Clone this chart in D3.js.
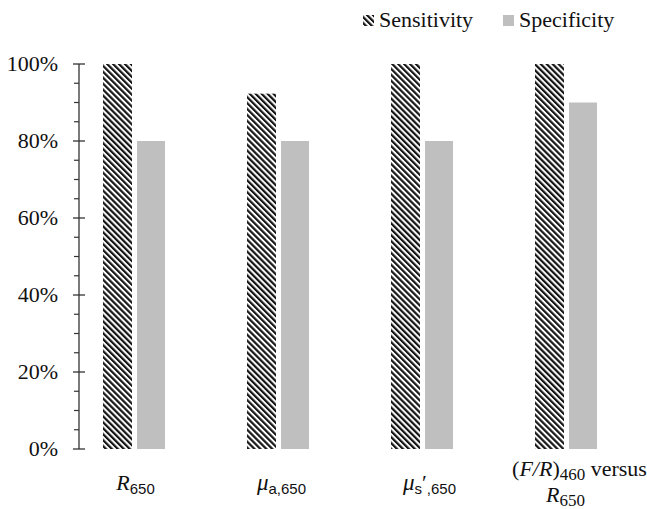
<!DOCTYPE html>
<html>
<head>
<meta charset="utf-8">
<script src="https://cdn.jsdelivr.net/npm/d3@7"></script>
<style>
  body { margin: 0; background: #fff; }
  svg { display: block; }
</style>
</head>
<body>
<div id="chart"></div>
<script>
// data
const categories = ["R650", "mua650", "mus650", "FR460"];
const sensitivity = [100, 92.3, 100, 100];
const specificity = [80, 80, 80, 90];
const seriesNames = ["Sensitivity", "Specificity"];
const yTicks = [0, 20, 40, 60, 80, 100];

const SERIF = "'Liberation Serif', 'Times New Roman', 'DejaVu Serif', serif";
const SANS = "'Liberation Sans', Arial, sans-serif";

const W = 647, H = 509;
const svg = d3.select("#chart").append("svg").attr("width", W).attr("height", H);

// hatch pattern for sensitivity
const defs = svg.append("defs");
defs.append("pattern")
    .attr("id", "hatch")
    .attr("patternUnits", "userSpaceOnUse")
    .attr("width", 4.2).attr("height", 4.2)
    .attr("patternTransform", "rotate(-45)")
    .append("rect")
    .attr("x", 0).attr("y", 0).attr("width", 2.2).attr("height", 4.2)
    .attr("fill", "#151515");

const axisX = 79;
const y = d3.scaleLinear().domain([0, 100]).range([449, 64]);
const x = d3.scaleBand().domain(categories).range([62.5, 638.5]);
const barW = 29, gap = 5;

// y axis
const ax = svg.append("g");
ax.append("line").attr("x1", axisX).attr("x2", axisX)
    .attr("y1", y(0)).attr("y2", y(100)).attr("stroke", "#333").attr("stroke-width", 1.3);
const minor = d3.range(0, 101, 5).filter(d => d % 20 !== 0);
ax.selectAll(".minor").data(minor).enter().append("line")
    .attr("x1", axisX - 5).attr("x2", axisX)
    .attr("y1", d => y(d)).attr("y2", d => y(d))
    .attr("stroke", "#333").attr("stroke-width", 1.2);
ax.selectAll(".major").data(yTicks).enter().append("line")
    .attr("x1", axisX - 6).attr("x2", axisX + 6)
    .attr("y1", d => y(d)).attr("y2", d => y(d))
    .attr("stroke", "#333").attr("stroke-width", 1.3);
ax.selectAll("text").data(yTicks).enter().append("text")
    .attr("font-family", SERIF)
    .attr("x", 58).attr("y", d => y(d) + 7)
    .attr("text-anchor", "end")
    .attr("font-size", 22).attr("fill", "#111")
    .text(d => d + "%");

// bars
const groups = svg.append("g").selectAll("g").data(categories).enter().append("g");
const cx = d => x(d) + x.bandwidth() / 2;
groups.append("rect")
    .attr("x", d => cx(d) - gap / 2 - barW)
    .attr("y", (d, i) => y(sensitivity[i]))
    .attr("width", barW)
    .attr("height", (d, i) => y(0) - y(sensitivity[i]))
    .attr("fill", "url(#hatch)");
groups.append("rect")
    .attr("x", d => cx(d) + gap / 2)
    .attr("y", (d, i) => y(specificity[i]))
    .attr("width", barW - 1)
    .attr("height", (d, i) => y(0) - y(specificity[i]))
    .attr("fill", "#bfbfbf");

// category labels
function label(cat, dx, yy) {
    return svg.append("text").attr("x", cx(cat) + dx).attr("y", yy)
        .attr("text-anchor", "middle").attr("fill", "#111");
}
function part(t, txt, fam, size, opts) {
    const s = t.append("tspan").attr("font-family", fam).attr("font-size", size).text(txt);
    if (opts && opts.italic) s.attr("font-style", "italic");
    if (opts && opts.dy) s.attr("dy", opts.dy);
    return s;
}
let t = label(categories[0], 1, 490);
part(t, "R", SERIF, 22, {italic: true});
part(t, "650", SANS, 15, {dy: 4});

t = label(categories[1], 3, 490);
part(t, "μ", SERIF, 23, {italic: true});
part(t, "a,650", SANS, 15, {dy: 4});

t = label(categories[2], 7, 490);
part(t, "μ", SERIF, 23, {italic: true});
part(t, "s", SANS, 15, {dy: 4});
part(t, "′", SERIF, 22, {dy: -4});
part(t, ",650", SANS, 15, {dy: 4});

t = label(categories[3], 13, 476);
part(t, "(", SERIF, 22);
part(t, "F/R", SERIF, 22, {italic: true});
part(t, ")", SERIF, 22);
part(t, "460", SERIF, 17, {dy: 4});
part(t, " versus", SERIF, 22, {dy: -4});

t = label(categories[3], -1, 502);
part(t, "R", SERIF, 22, {italic: true});
part(t, "650", SERIF, 17, {dy: 4});

// legend
const legend = svg.append("g");
const legX = [363, 503];
const legFill = ["url(#hatch)", "#bfbfbf"];
seriesNames.forEach((name, i) => {
    legend.append("rect").attr("x", legX[i]).attr("y", 15)
        .attr("width", 11).attr("height", 11).attr("fill", legFill[i]);
    legend.append("text").attr("font-family", SERIF)
        .attr("x", legX[i] + 16).attr("y", 27)
        .attr("font-size", 22).attr("fill", "#111").text(name);
});
</script>
</body>
</html>
